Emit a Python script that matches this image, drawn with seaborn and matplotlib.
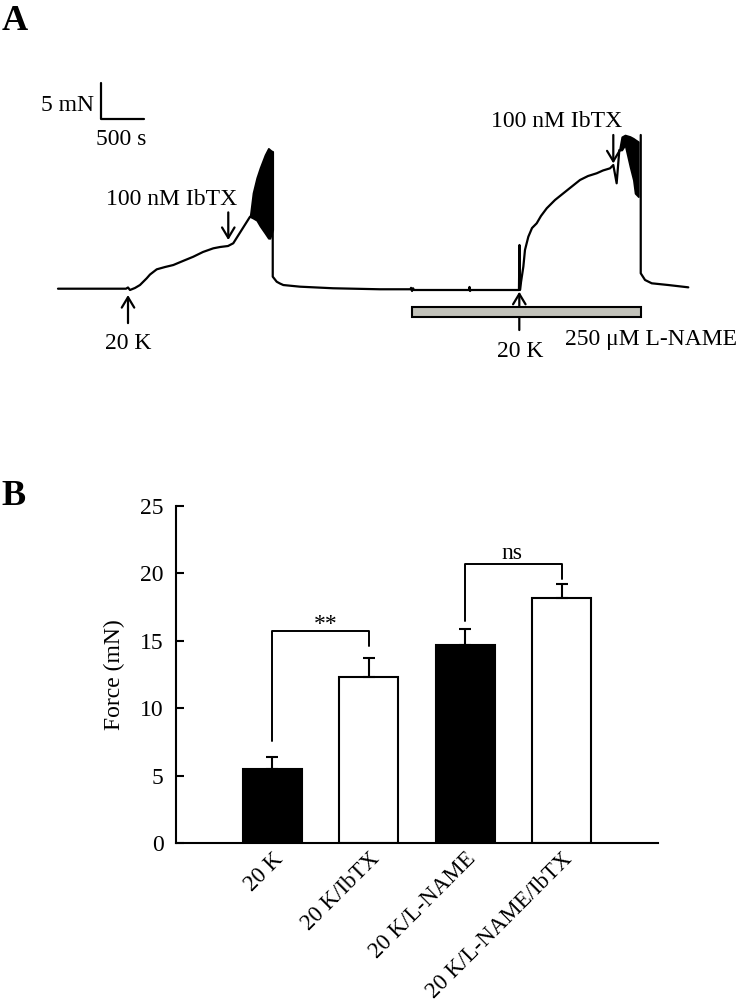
import numpy as np
import pandas as pd
import matplotlib
matplotlib.use("Agg")
import matplotlib.pyplot as plt
from matplotlib.patches import Rectangle
import seaborn as sns

# ---- panel A: isometric force trace (time in s, force in mN)
trace_t = [0, 791, 814, 837, 895, 953, 1031, 1070, 1148, 1244, 1341, 1453, 1573, 1686,
           1806, 1884, 1977, 2038, 2233]
trace_f = [0, 0, 0.17, -0.18, 0.10, 0.51, 1.44, 1.97, 2.69, 3.01, 3.29, 3.85, 4.44, 5.10,
           5.61, 5.79, 5.93, 6.31, 10.0]

band1_t = [2233, 2267, 2310, 2349, 2407, 2446, 2465, 2497]
band1_lo = [10.0, 9.8, 9.5, 8.7, 7.7, 7.0, 7.0, 8.2]
band1_hi = [10.0, 13.3, 15.4, 16.8, 18.6, 19.5, 19.3, 19.0]

mid_t = [2497, 2497, 2543, 2581, 2620, 2814, 3198, 3744, 4099, 4105, 4117, 4128, 4140,
         4442, 4779, 4785, 4791, 4797, 5360, 5366, 5372, 5384, 5411, 5430, 5469, 5512,
         5566, 5616, 5683, 5779, 5876, 5965, 6070, 6163, 6264, 6337, 6419, 6457, 6496, 6527]
mid_f = [19.0, 1.67, 0.97, 0.72, 0.51, 0.28, 0.06, -0.08, -0.08, 0.12, -0.32, 0.06, -0.18,
         -0.18, -0.18, 0.24, -0.32, -0.18, -0.18, 6.07, -0.18, 0.93, 3.06, 5.38, 7.22, 8.43,
         9.08, 10.10, 11.17, 12.32, 13.25, 14.10, 15.10, 15.65, 16.03, 16.42, 16.72, 17.18,
         14.64, 19.26]

band2_t = [6527, 6555, 6593, 6651, 6690, 6710, 6748]
band2_lo = [19.26, 19.26, 19.96, 16.94, 15.10, 13.25, 12.78]
band2_hi = [19.26, 21.1, 21.35, 21.14, 20.89, 20.72, 20.42]

tail_t = [6776, 6776, 6826, 6904, 7097, 7329]
tail_f = [21.35, 2.14, 1.21, 0.75, 0.51, 0.19]

lname_start, lname_end = 4113, 6776   # s, L-NAME application bar
k20_times = [814, 5364]
ibtx_times = [1980, 6457]

# ---- panel B: mean force and SEM
conditions = ["20 K", "20 K/IbTX", "20 K/L-NAME", "20 K/L-NAME/IbTX"]
force_mean = [5.47, 12.28, 14.69, 18.15]
force_sem = [0.88, 1.41, 1.16, 1.06]
bar_colors = ["black", "white", "black", "white"]

sns.set_theme(style="white")
plt.rcParams["font.family"] = ["Liberation Serif", "DejaVu Serif"]
for k in ["text.color", "axes.labelcolor", "xtick.color", "ytick.color"]:
    plt.rcParams[k] = "black"
FS = 17

fig = plt.figure(figsize=(7.43, 10.08), dpi=100)

# pixel mapping used for panel A: t=0 at x=58 px, 43 px per 500 s; F=0 at y=288.7 px, 7.2 px per mN
px_per_s, px_per_mn = 43 / 500, 7.2
axA = fig.add_axes([0, 1 - 380 / 1008, 1, 380 / 1008])
axA.set_xlim(-58 / px_per_s, (743 - 58) / px_per_s)
axA.set_ylim((288.7 - 380) / px_per_mn, 288.7 / px_per_mn)
axA.axis("off")

trace_df = pd.concat([
    pd.DataFrame({"t": trace_t, "F": trace_f, "seg": 0}),
    pd.DataFrame({"t": mid_t, "F": mid_f, "seg": 1}),
    pd.DataFrame({"t": tail_t, "F": tail_f, "seg": 2}),
])
sns.lineplot(data=trace_df, x="t", y="F", units="seg", estimator=None, sort=False,
             color="black", lw=1.6, ax=axA, legend=False)
axA.fill_between(band1_t, band1_lo, band1_hi, color="black", lw=1.2)
axA.fill_between(band2_t, band2_lo, band2_hi, color="black", lw=1.2)

# scale bar 500 s / 5 mN
sb_t, sb_f = 500, 23.53
axA.plot([sb_t, sb_t, sb_t + 500], [sb_f + 5, sb_f, sb_f], color="black", lw=1.6)
axA.text(sb_t - 80, sb_f + 1.1, "5 mN", ha="right", va="baseline", fontsize=FS)
axA.text(sb_t + 240, 19.96, "500 s", ha="center", va="baseline", fontsize=FS)

arrow_kw = dict(arrowstyle="->,head_length=0.5,head_width=0.3", lw=1.6, color="black",
                shrinkA=0, shrinkB=0, mutation_scale=15)
# 20 K arrows (pointing up)
axA.annotate("", xy=(k20_times[0], -0.88), xytext=(k20_times[0], -4.78), arrowprops=arrow_kw)
axA.text(k20_times[0], -8.4, "20 K", ha="center", va="baseline", fontsize=FS)
axA.annotate("", xy=(k20_times[1], -0.42), xytext=(k20_times[1], -5.74), arrowprops=arrow_kw)
axA.text(k20_times[1] + 8, -9.5, "20 K", ha="center", va="baseline", fontsize=FS)
# IbTX arrows (pointing down)
axA.annotate("", xy=(ibtx_times[0], 6.76), xytext=(ibtx_times[0], 10.6), arrowprops=arrow_kw)
axA.text(1322, 11.6, "100 nM IbTX", ha="center", va="baseline", fontsize=FS)
axA.annotate("", xy=(ibtx_times[1], 17.4), xytext=(ibtx_times[1], 21.35), arrowprops=arrow_kw)
axA.text(5797, 22.5, "100 nM IbTX", ha="center", va="baseline", fontsize=FS)

# L-NAME bar
axA.add_patch(Rectangle((lname_start, -3.97), lname_end - lname_start, 1.47,
                        facecolor="#c2c2ba", edgecolor="black", lw=1.5, zorder=3))
axA.text(5895, -7.82, "250 \u03bcM L-NAME", ha="left", va="baseline", fontsize=FS)

# ---- panel B
axB = fig.add_axes([176 / 743, 1 - 843 / 1008, 482 / 743, 337 / 1008])
df = pd.DataFrame({"cond": conditions, "force": force_mean})
sns.barplot(data=df, x="cond", y="force", hue="cond", palette=bar_colors, edgecolor="black",
            linewidth=1.5, width=0.61, errorbar=None, legend=False, ax=axB)
axB.errorbar(range(len(conditions)), force_mean, yerr=[np.zeros(len(force_sem)), force_sem],
             fmt="none", ecolor="black", elinewidth=1.5, capsize=4, capthick=1.5, zorder=1)
axB.set_xlim(-1, 4)
axB.set_ylim(0, 25)
axB.set_yticks(range(0, 26, 5))
for s in ["top", "right"]:
    axB.spines[s].set_visible(False)
for s in ["left", "bottom"]:
    axB.spines[s].set_linewidth(1.5)
    axB.spines[s].set_color("black")
axB.tick_params(axis="y", direction="in", length=6, width=1.5, pad=9, labelsize=FS, left=True)
axB.tick_params(axis="x", length=0, pad=4, labelsize=16.5)
axB.set_xticks(range(len(conditions)))
axB.set_xticklabels(conditions, rotation=45, ha="right", va="top", rotation_mode="anchor")
axB.set_xlabel("")
axB.set_ylabel("Force (mN)", fontsize=FS)
axB.yaxis.set_label_coords(-0.106, 0.5)

# significance brackets
axB.plot([0, 0, 1, 1], [7.6, 15.7, 15.7, 14.6], color="black", lw=1.4)
axB.text(0.55, 15.8, "**", ha="center", va="baseline", fontsize=FS)
axB.plot([2, 2, 3, 3], [16.5, 20.7, 20.7, 19.6], color="black", lw=1.4)
axB.text(2.48, 21.1, "ns", ha="center", va="baseline", fontsize=FS)

# panel letters
fig.text(0.002, 1 - 30 / 1008, "A", fontsize=26, fontweight="bold", ha="left", va="baseline")
fig.text(0.002, 1 - 505 / 1008, "B", fontsize=26, fontweight="bold", ha="left", va="baseline")

fig.savefig("out.png", dpi=100)
